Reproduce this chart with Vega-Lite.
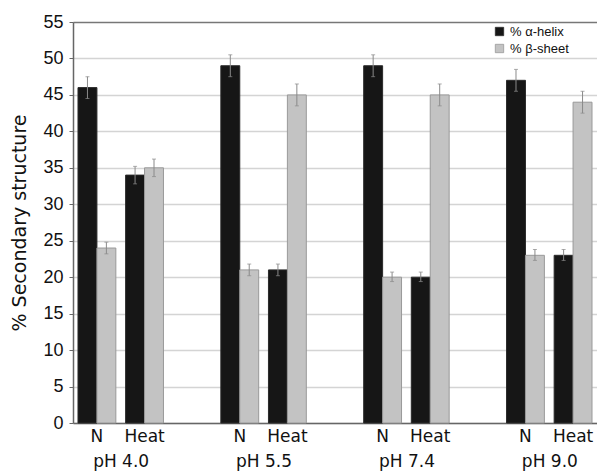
{
  "$schema": "https://vega.github.io/schema/vega-lite/v6.json",
  "width": 524,
  "height": 401,
  "autosize": {"type": "none"},
  "padding": {"left": 73, "top": 22, "right": 0, "bottom": 50},
  "background": "white",
  "config": {
    "font": "Liberation Sans",
    "view": {"stroke": null},
    "axisY": {
      "titleFont": "DejaVu Sans",
      "titleFontSize": 19,
      "titleFontWeight": "normal",
      "titleColor": "#111",
      "titlePadding": 13,
      "labelFontSize": 18,
      "labelColor": "#111",
      "labelPadding": 6,
      "tickSize": 4,
      "tickColor": "#666",
      "domainColor": "#666",
      "domainWidth": 1.5,
      "gridWidth": 1.5
    }
  },
  "datasets": {
    "bars": [
      {"ph": "pH 4.0", "sub": "4.0 N", "type": "% α-helix", "value": 46, "lo": 44.5, "hi": 47.5},
      {"ph": "pH 4.0", "sub": "4.0 N", "type": "% β-sheet", "value": 24, "lo": 23.2, "hi": 24.8},
      {"ph": "pH 4.0", "sub": "4.0 Heat", "type": "% α-helix", "value": 34, "lo": 32.8, "hi": 35.2},
      {"ph": "pH 4.0", "sub": "4.0 Heat", "type": "% β-sheet", "value": 35, "lo": 33.8, "hi": 36.2},
      {"ph": "pH 5.5", "sub": "5.5 N", "type": "% α-helix", "value": 49, "lo": 47.5, "hi": 50.5},
      {"ph": "pH 5.5", "sub": "5.5 N", "type": "% β-sheet", "value": 21, "lo": 20.2, "hi": 21.8},
      {"ph": "pH 5.5", "sub": "5.5 Heat", "type": "% α-helix", "value": 21, "lo": 20.2, "hi": 21.8},
      {"ph": "pH 5.5", "sub": "5.5 Heat", "type": "% β-sheet", "value": 45, "lo": 43.5, "hi": 46.5},
      {"ph": "pH 7.4", "sub": "7.4 N", "type": "% α-helix", "value": 49, "lo": 47.5, "hi": 50.5},
      {"ph": "pH 7.4", "sub": "7.4 N", "type": "% β-sheet", "value": 20, "lo": 19.4, "hi": 20.7},
      {"ph": "pH 7.4", "sub": "7.4 Heat", "type": "% α-helix", "value": 20, "lo": 19.4, "hi": 20.7},
      {"ph": "pH 7.4", "sub": "7.4 Heat", "type": "% β-sheet", "value": 45, "lo": 43.5, "hi": 46.5},
      {"ph": "pH 9.0", "sub": "9.0 N", "type": "% α-helix", "value": 47, "lo": 45.5, "hi": 48.5},
      {"ph": "pH 9.0", "sub": "9.0 N", "type": "% β-sheet", "value": 23, "lo": 22.3, "hi": 23.8},
      {"ph": "pH 9.0", "sub": "9.0 Heat", "type": "% α-helix", "value": 23, "lo": 22.3, "hi": 23.8},
      {"ph": "pH 9.0", "sub": "9.0 Heat", "type": "% β-sheet", "value": 44, "lo": 42.5, "hi": 45.5}
    ],
    "groups": [
      {"ph": "pH 4.0"}, {"ph": "pH 5.5"}, {"ph": "pH 7.4"}, {"ph": "pH 9.0"}
    ]
  },
  "layer": [
    {
      "data": {"name": "bars"},
      "encoding": {
        "x": {
          "field": "sub",
          "type": "nominal",
          "sort": null,
          "scale": {
            "type": "band",
            "domain": ["4.0 N", "4.0 Heat", "g1", "5.5 N", "5.5 Heat", "g2", "7.4 N", "7.4 Heat", "g3", "9.0 N", "9.0 Heat"],
            "paddingInner": 0.205,
            "paddingOuter": 0.105
          },
          "axis": {
            "title": null,
            "orient": "bottom",
            "labelExpr": "indexof(datum.value, 'g') === 0 ? '' : split(datum.value, ' ')[1]",
            "labelAngle": 0,
            "labelFont": "DejaVu Sans",
            "labelFontSize": 17,
            "labelColor": "#111",
            "labelPadding": 5,
            "ticks": false,
            "grid": false,
            "domainColor": "#666",
            "domainWidth": 1.5
          }
        },
        "xOffset": {
          "field": "type",
          "type": "nominal",
          "scale": {"domain": ["% α-helix", "% β-sheet"], "paddingInner": 0, "paddingOuter": 0}
        },
        "y": {
          "field": "value",
          "type": "quantitative",
          "scale": {"domain": [0, 55], "nice": false},
          "axis": {
            "title": "% Secondary structure",
            "values": [0, 5, 10, 15, 20, 25, 30, 35, 40, 45, 50, 55],
            "gridColor": {"condition": {"test": "datum.value === 55", "value": "#777"}, "value": "#d4d4d4"}
          }
        }
      },
      "layer": [
        {
          "mark": {"type": "bar", "strokeWidth": 1},
          "encoding": {
            "color": {
              "field": "type",
              "type": "nominal",
              "scale": {"domain": ["% α-helix", "% β-sheet"], "range": ["#161616", "#c3c3c3"]},
              "legend": {
                "title": null,
                "orient": "none",
                "legendX": 420,
                "legendY": 3,
                "symbolType": "square",
                "symbolSize": 70,
                "symbolStrokeColor": "#888",
                "symbolStrokeWidth": 0.8,
                "labelFontSize": 13,
                "labelColor": "#111",
                "rowPadding": 3,
                "labelOffset": 4
              }
            },
            "stroke": {
              "field": "type",
              "type": "nominal",
              "scale": {"domain": ["% α-helix", "% β-sheet"], "range": ["#2a2a2a", "#999999"]},
              "legend": null
            }
          }
        },
        {
          "mark": {"type": "rule", "color": "#8a8a8a", "strokeWidth": 1},
          "encoding": {
            "y": {"field": "lo", "type": "quantitative"},
            "y2": {"field": "hi"}
          }
        },
        {
          "mark": {"type": "tick", "color": "#8a8a8a", "size": 4, "thickness": 1},
          "encoding": {
            "y": {"field": "lo", "type": "quantitative"}
          }
        },
        {
          "mark": {"type": "tick", "color": "#8a8a8a", "size": 4, "thickness": 1},
          "encoding": {
            "y": {"field": "hi", "type": "quantitative"}
          }
        }
      ]
    },
    {
      "data": {"name": "groups"},
      "mark": {"type": "point", "opacity": 0},
      "encoding": {
        "x": {
          "field": "ph",
          "type": "nominal",
          "sort": null,
          "scale": {"type": "point", "padding": 0.3333},
          "axis": {
            "title": null,
            "orient": "bottom",
            "offset": 27,
            "labelAngle": 0,
            "labelFont": "DejaVu Sans",
            "labelFontSize": 17,
            "labelColor": "#111",
            "labelPadding": 3,
            "ticks": false,
            "domain": false,
            "grid": false
          }
        },
        "y": {
          "datum": 0,
          "type": "quantitative",
          "axis": {
            "title": "% Secondary structure",
            "values": [0, 5, 10, 15, 20, 25, 30, 35, 40, 45, 50, 55],
            "gridColor": {"condition": {"test": "datum.value === 55", "value": "#777"}, "value": "#d4d4d4"}
          }
        }
      }
    }
  ],
  "resolve": {"scale": {"x": "independent"}, "axis": {"x": "independent"}}
}
